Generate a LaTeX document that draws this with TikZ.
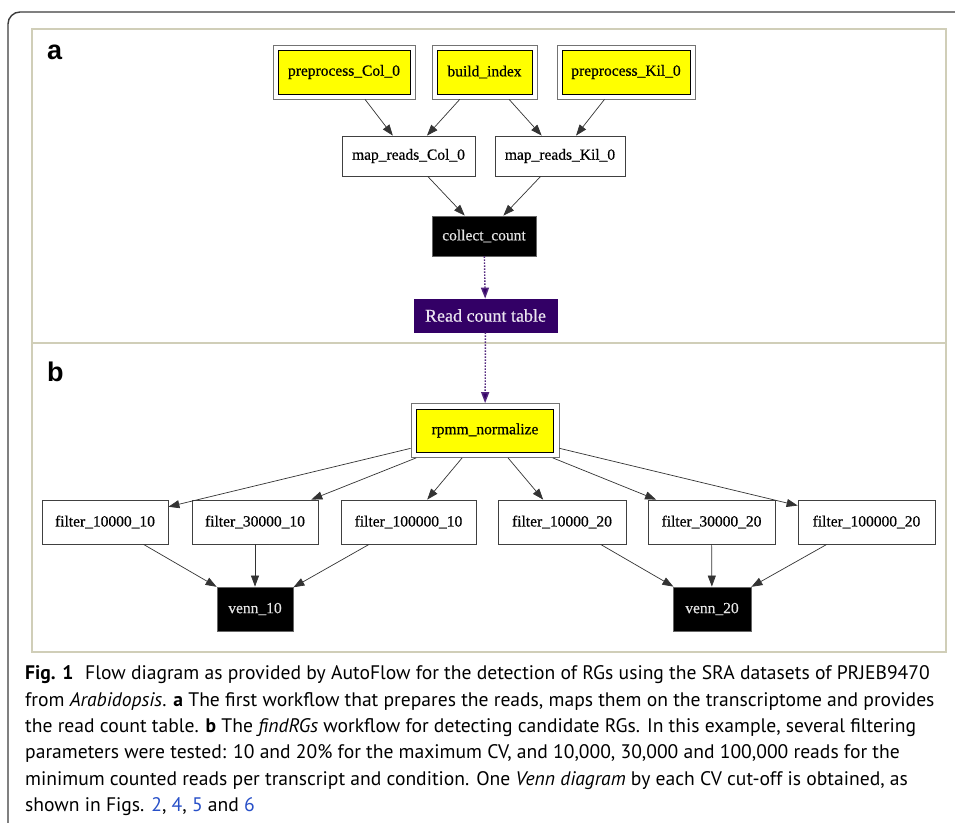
\documentclass[tikz,border=0pt]{standalone}
\usepackage{fontspec}
\setmainfont{Liberation Serif}
\newfontfamily\nodefont[FakeBold=0.5]{Liberation Serif}
\newfontfamily\capfont{PT Sans}
\newfontfamily\labfont{Liberation Sans}
\usetikzlibrary{arrows.meta}
\definecolor{panelc}{RGB}{208,206,184}
\definecolor{framec}{RGB}{60,60,60}
\definecolor{purp}{RGB}{51,0,102}
\definecolor{linkc}{RGB}{40,80,200}
\definecolor{ylw}{RGB}{255,255,0}
\tikzset{
  box/.style={draw=black!75, line width=0.8pt, fill=white, inner sep=0pt, font=\nodefont\fontsize{15.5}{16}\selectfont},
  inbox/.style={box, fill=ylw, draw=black},
  outbox/.style={draw=black!55, line width=0.8pt, fill=white, inner sep=0pt},
  blk/.style={box, fill=black, draw=black!60, text=white!90!black},
  edge/.style={draw=black!80, line width=0.7pt, -{Triangle[length=11pt,width=8pt]}},
  pedge/.style={draw=purp!85!white, line width=1.4pt, dash pattern=on 1.4pt off 1.6pt, -{Triangle[length=11pt,width=8pt,fill=purp]}},
  capline/.style={anchor=base west, inner sep=0pt, font=\capfont\fontsize{19.6}{26}\selectfont},
  lab/.style={anchor=base west, inner sep=0pt, font=\labfont\bfseries\fontsize{27}{28}\selectfont}
}
\begin{document}
\begin{tikzpicture}[x=1pt,y=-1pt]
\useasboundingbox (0,0) rectangle (955,822);
\fill[white] (0,0) rectangle (955,822);
% outer frame
\draw[framec, line width=1.4pt, rounded corners=12pt] (8,830) -- (8,12) -- (965,12);
% panel
\draw[panelc, line width=1.8pt] (32,29) rectangle (946,652);
\draw[panelc, line width=1.8pt] (32,343) -- (946,343);
\node[lab] (la) at (47,59) {a};
\node[lab] (lb) at (47,381) {b};

% panel a
\node[outbox, minimum width=142pt, minimum height=54pt] (pc) at (344,72) {};
\node[inbox, minimum width=132pt, minimum height=44pt] (pci) at (344,72) {preprocess\_Col\_0};
\node[outbox, minimum width=105pt, minimum height=54pt] (bi) at (484.5,72) {};
\node[inbox, minimum width=95pt, minimum height=44pt] (bii) at (484.5,72) {build\_index};
\node[outbox, minimum width=138pt, minimum height=54pt] (pk) at (626,72) {};
\node[inbox, minimum width=128pt, minimum height=44pt] (pki) at (626,72) {preprocess\_Kil\_0};

\node[box, minimum width=133pt, minimum height=40pt] (mc) at (408.5,156) {map\_reads\_Col\_0};
\node[box, minimum width=130pt, minimum height=40pt] (mk) at (560,156) {map\_reads\_Kil\_0};
\node[blk, minimum width=104pt, minimum height=40pt] (cc) at (484,236) {collect\_count};
\node[box, fill=purp, draw=purp, text=white!90!purp, minimum width=143pt, minimum height=33pt, font=\nodefont\fontsize{18}{19}\selectfont] (rct) at (485.5,315.5) {Read count table};

% panel b
\node[outbox, minimum width=148pt, minimum height=54pt] (rp) at (485,430.5) {};
\node[inbox, minimum width=137pt, minimum height=43pt] (rpi) at (485,430.5) {rpmm\_normalize};

\node[box, minimum width=126pt, minimum height=44pt] (f1) at (105,522) {filter\_10000\_10};
\node[box, minimum width=126pt, minimum height=44pt] (f2) at (255,522) {filter\_30000\_10};
\node[box, minimum width=135pt, minimum height=44pt] (f3) at (408.5,522) {filter\_100000\_10};
\node[box, minimum width=128pt, minimum height=44pt] (f4) at (562,522) {filter\_10000\_20};
\node[box, minimum width=127pt, minimum height=44pt] (f5) at (711.5,522) {filter\_30000\_20};
\node[box, minimum width=137pt, minimum height=44pt] (f6) at (866.5,522) {filter\_100000\_20};

\node[blk, minimum width=76pt, minimum height=44pt] (v1) at (255,609) {venn\_10};
\node[blk, minimum width=78pt, minimum height=44pt] (v2) at (712,609) {venn\_20};

% edges
\draw[edge] (pc) -- (mc);
\draw[edge] (bi) -- (mc);
\draw[edge] (bi) -- (mk);
\draw[edge] (pk) -- (mk);
\draw[edge] (mc) -- (cc);
\draw[edge] (mk) -- (cc);
\draw[pedge] (cc) -- (rct);
\draw[pedge] (rct) -- (rp);
\foreach \f in {f1,f2,f3,f4,f5,f6} { \draw[edge] (rp) -- (\f); }
\draw[edge] (f1) -- (v1);
\draw[edge] (f2) -- (v1);
\draw[edge] (f3) -- (v1);
\draw[edge] (f4) -- (v2);
\draw[edge] (f5) -- (v2);
\draw[edge] (f6) -- (v2);

% caption
\node[capline] (c1) at (25,679) {\textbf{Fig. 1}\hspace{0.6em}Flow diagram as provided by AutoFlow for the detection of RGs using the SRA datasets of PRJEB9470};
\node[capline] (c2) at (25,706) {from \textit{Arabidopsis}. \textbf{a} The first workflow that prepares the reads, maps them on the transcriptome and provides};
\node[capline] (c3) at (25,732) {the read count table. \textbf{b} The \textit{findRGs} workflow for detecting candidate RGs. In this example, several filtering};
\node[capline] (c4) at (25,758) {parameters were tested: 10 and 20\% for the maximum CV, and 10,000, 30,000 and 100,000 reads for the};
\node[capline] (c5) at (25,785) {minimum counted reads per transcript and condition. One \textit{Venn diagram} by each CV cut-off is obtained, as};
\node[capline] (c6) at (25,811) {shown in Figs. \textcolor{linkc}{2}, \textcolor{linkc}{4}, \textcolor{linkc}{5} and \textcolor{linkc}{6}};
\end{tikzpicture}
\end{document}
